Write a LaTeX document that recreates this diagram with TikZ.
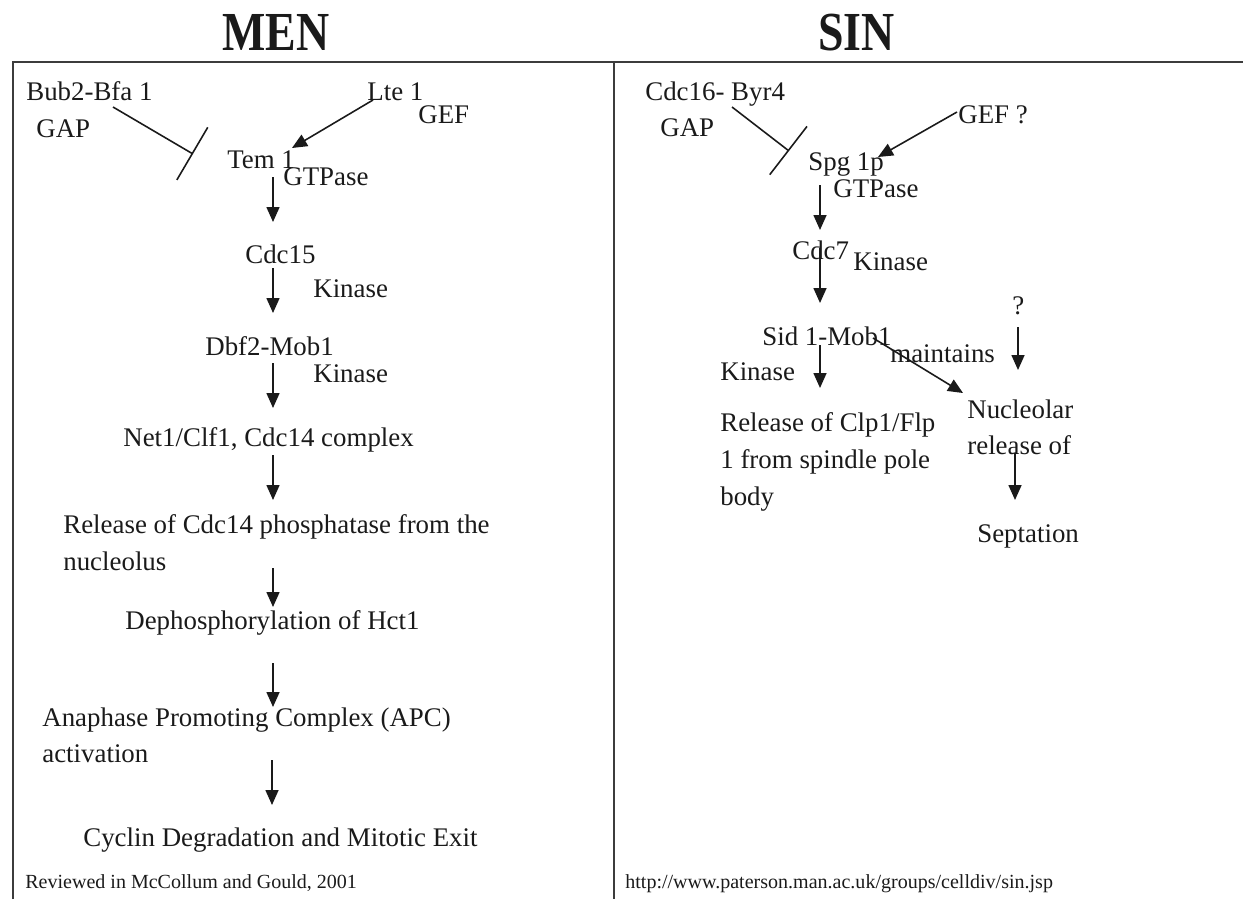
\documentclass[tikz,border=0pt]{standalone}
\usepackage{fontspec}
\setmainfont{Liberation Serif}
\usepackage{graphicx}
\usetikzlibrary{arrows.meta,calc}
\definecolor{ink}{HTML}{1A1A1A}

\begin{document}
\begin{tikzpicture}[x=0.02cm,y=-0.02cm,
    every node/.style={font=\fontsize{15.3}{21}\selectfont,inner sep=0pt,text=ink,anchor=base west},
    title/.style={font=\fontsize{26.1}{30}\selectfont\bfseries},
    note/.style={font=\fontsize{11.4}{14}\selectfont},
    multi/.style={align=left,anchor=north west},
    arr/.style={-{Triangle[length=0.3cm,width=0.26cm]},line width=0.9pt,draw=ink},
    blk/.style={-{Bar[width=1.22cm]},line width=0.9pt,draw=ink},
    frame/.style={line width=1.3pt,draw=ink!85}
]
\useasboundingbox (0,0) rectangle (1243,899);

% frame
\draw[frame] (13,899) -- (13,62) -- (1243,62);
\draw[frame] (614,62) -- (614,899);

% MEN side
\node[title] (men) at (222,50) {\scalebox{1}[1.2]{MEN}};
\node (bub) at (26,100) {Bub2-Bfa 1};
\node (bubgap) at (36,137) {GAP};
\node (lte) at (367,100) {Lte 1};
\node (ltegef) at (418,123) {GEF};
\node (tem) at (227,168) {Tem 1};
\node (temgtp) at (283,185) {GTPase};
\node (cdcf) at (245,263) {Cdc15};
\node (cdcfkin) at (313,297) {Kinase};
\node (dbf) at (205,355) {Dbf2-Mob1};
\node (dbfkin) at (313,382) {Kinase};
\node (net) at (123,446) {Net1/Clf1, Cdc14 complex};
\node[multi] (rel) at (63,514) {Release of Cdc14 phosphatase from the\\nucleolus};
\node (deph) at (125,629) {Dephosphorylation of Hct1};
\node[multi] (apc) at (42,707) {Anaphase Promoting Complex (APC)\\activation};
\node (exit) at (83,846) {Cyclin Degradation and Mitotic Exit};
\node[note] (menref) at (25,888) {Reviewed in McCollum and Gould, 2001};

\coordinate (tembar) at (193,154);
\draw[blk] ($(bub.base west)+(87,7)$) -- (tembar);
\draw[arr] ($(lte.base west)+(6,0)$) -- ($(tem.base west)+(65,-20)$);
\draw[arr] ($(tem.base west)+(46,9)$) -- ($(cdcf.base west)+(28,-41)$);
\draw[arr] ($(cdcf.base west)+(28,5)$) -- ($(dbf.base west)+(68,-42)$);
\draw[arr] ($(dbf.base west)+(68,8)$) -- ($(net.base west)+(150,-38)$);
\draw[arr] ($(net.base west)+(150,9)$) -- ($(rel.north west)+(210,-14)$);
\draw[arr] ($(rel.north west)+(210,54)$) -- ($(deph.base west)+(148,-22)$);
\draw[arr] ($(deph.base west)+(148,34)$) -- ($(apc.north west)+(231,0)$);
\draw[arr] ($(apc.north west)+(230,53)$) -- ($(exit.base west)+(189,-41)$);

% SIN side
\node[title] (sin) at (818,50) {\scalebox{1}[1.2]{SIN}};
\node (cdcs) at (645,100) {Cdc16- Byr4};
\node (cdcsgap) at (660,136) {GAP};
\node (gefq) at (958,123) {GEF ?};
\node (spg) at (808,170) {Spg 1p};
\node (spggtp) at (833,197) {GTPase};
\node (cdcv) at (792,259) {Cdc7};
\node (cdcvkin) at (853,270) {Kinase};
\node (unk) at (1012,314) {?};
\node (sid) at (762,345) {Sid 1-Mob1};
\node (maint) at (890,362) {maintains};
\node (sidkin) at (720,380) {Kinase};
\node[multi] (clp) at (720,412) {Release of Clp1/Flp\\1 from spindle pole\\body};
\node[multi] (nuc) at (967,399) {Nucleolar\\release of};
\node (sept) at (977,542) {Septation};
\node[note] (sinref) at (625,888) {http://www.paterson.man.ac.uk/groups/celldiv/sin.jsp};

\coordinate (spgbar) at (789,151);
\draw[blk] ($(cdcs.base west)+(87,7)$) -- (spgbar);
\draw[arr] ($(gefq.base west)+(-1,-11)$) -- ($(spg.base west)+(70,-13)$);
\draw[arr] ($(spg.base west)+(12,15)$) -- ($(cdcv.base west)+(28,-29)$);
\draw[arr] ($(cdcv.base west)+(28,-11)$) -- ($(sid.base west)+(58,-42)$);
\draw[arr] ($(sid.base west)+(58,0)$) -- ($(clp.north west)+(100,-24)$);
\draw[arr] ($(sid.base west)+(111,-7)$) -- ($(nuc.north west)+(-4,-6)$);
\draw[arr] ($(unk.base west)+(6,13)$) -- ($(nuc.north west)+(51,-29)$);
\draw[arr] ($(nuc.north west)+(48,54)$) -- ($(sept.base west)+(38,-42)$);
\end{tikzpicture}
\end{document}
